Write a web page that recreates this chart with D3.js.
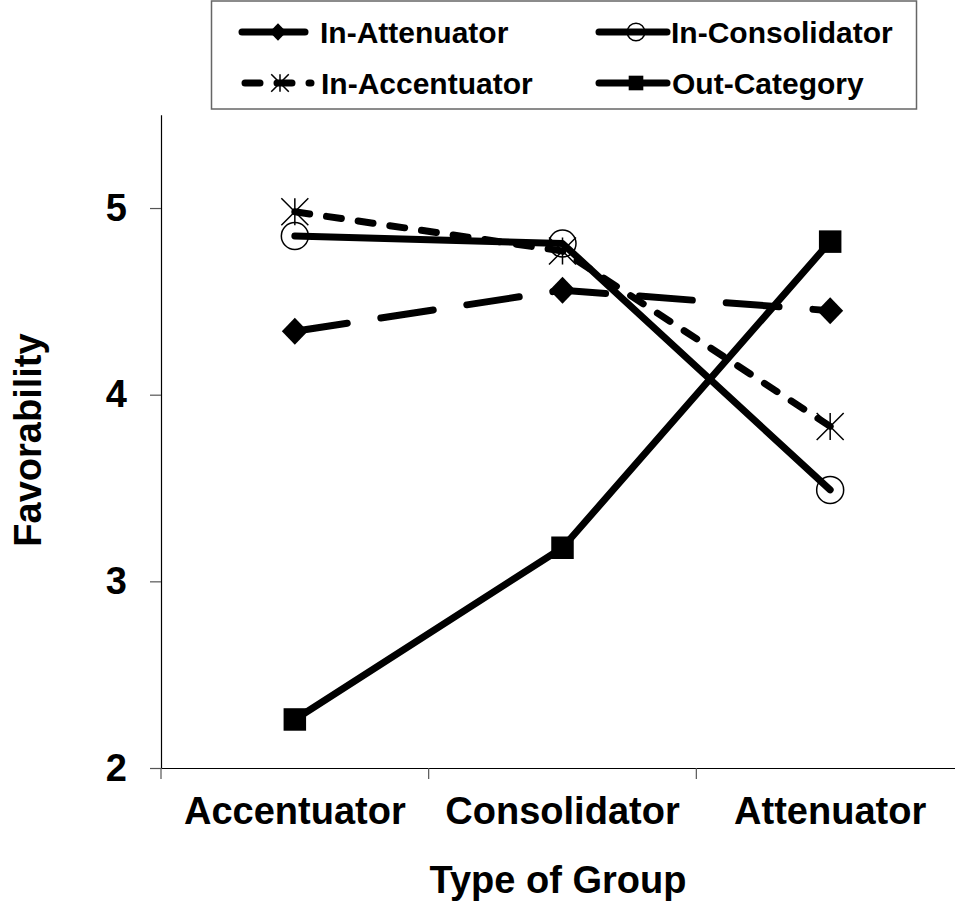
<!DOCTYPE html>
<html>
<head>
<meta charset="utf-8">
<script src="https://cdn.jsdelivr.net/npm/d3@7"></script>
<style>
  html, body { margin: 0; padding: 0; background: #fff; }
  svg { display: block; }
  text { font-family: "Liberation Sans", Arial, sans-serif; font-weight: bold; fill: #000; }
</style>
</head>
<body>
<svg id="chart" width="955" height="904"></svg>
<script>
// ---- data ----
const categories = ["Accentuator", "Consolidator", "Attenuator"];
const seriesNames = ["In-Attenuator", "In-Consolidator", "In-Accentuator", "Out-Category"];
const inAttenuator = [4.34, 4.56, 4.45];
const inConsolidator = [4.85, 4.81, 3.49];
const inAccentuator = [4.98, 4.77, 3.83];
const outCategory = [2.26, 3.18, 4.82];
const yTicks = [2, 3, 4, 5];
const xTitle = "Type of Group";
const yTitle = "Favorability";

// ---- styles (kept separate from data) ----
const styles = {
  "In-Attenuator":   { values: inAttenuator,   dash: "53,34", legendDash: null,    marker: "diamond" },
  "In-Consolidator": { values: inConsolidator, dash: null,    legendDash: null,    marker: "circle" },
  "In-Accentuator":  { values: inAccentuator,  dash: "15,17", legendDash: "15,17", marker: "asterisk" },
  "Out-Category":    { values: outCategory,    dash: null,    legendDash: null,    marker: "square" }
};

const svg = d3.select("#chart");
const plotLeft = 161, plotRight = 964, plotTop = 114.7, plotBottom = 768;

const x = d3.scaleBand().domain(categories).range([plotLeft, plotRight]).padding(0);
const y = d3.scaleLinear().domain([2, 5.5]).range([plotBottom, plotTop]);
const cx = c => x(c) + x.bandwidth() / 2;

// ---- axes ----
const yAxis = d3.axisLeft(y).tickValues(yTicks).tickFormat(d3.format("d"))
  .tickSizeInner(11).tickSizeOuter(0).tickPadding(23);
const gy = svg.append("g").attr("transform", `translate(${plotLeft},0)`).call(yAxis);
gy.select(".domain").attr("stroke", "#000").attr("stroke-width", 1.2);
gy.selectAll(".tick line").attr("stroke", "#555").attr("stroke-width", 1.2);
gy.selectAll(".tick text").style("font-size", "38px").style("font-family", "Liberation Sans, Arial, sans-serif")
  .style("font-weight", "bold").attr("fill", "#000");

const xAxis = d3.axisBottom(x).tickSize(0).tickPadding(29);
const gx = svg.append("g").attr("transform", `translate(0,${plotBottom})`).call(xAxis);
gx.select(".domain").attr("stroke", "#000").attr("stroke-width", 1.2);
gx.selectAll(".tick text").style("font-size", "38px").style("font-family", "Liberation Sans, Arial, sans-serif")
  .style("font-weight", "bold").attr("fill", "#000");

// boundary ticks between categories
const boundaries = categories.map(c => x(c));
svg.append("g").selectAll("line").data(boundaries).join("line")
  .attr("x1", d => d).attr("x2", d => d)
  .attr("y1", plotBottom).attr("y2", plotBottom + 11)
  .attr("stroke", "#555").attr("stroke-width", 1.2);

// axis titles
svg.append("text").attr("x", 558).attr("y", 893).attr("text-anchor", "middle")
  .style("font-size", "38px").text(xTitle);
svg.append("text").attr("transform", "translate(41,440) rotate(-90)").attr("text-anchor", "middle")
  .style("font-size", "38px").text(yTitle);

// ---- marker drawing ----
function drawMarker(g, type, px, py, scale) {
  const s = scale || 1;
  if (type === "diamond") {
    const hw = 13 * s, hh = 13.5 * s;
    g.append("path").attr("d", `M${px},${py - hh}L${px + hw},${py}L${px},${py + hh}L${px - hw},${py}Z`)
      .attr("fill", "#000");
  } else if (type === "circle") {
    g.append("circle").attr("cx", px).attr("cy", py).attr("r", 13.5 * s)
      .attr("fill", "none").attr("stroke", "#000").attr("stroke-width", 1.5);
  } else if (type === "asterisk") {
    const r = 13.5 * s;
    g.append("path").attr("d",
      `M${px},${py - r}L${px},${py + r}M${px - r},${py - r}L${px + r},${py + r}M${px + r},${py - r}L${px - r},${py + r}`)
      .attr("fill", "none").attr("stroke", "#000").attr("stroke-width", 1.5);
  } else if (type === "square") {
    const h = 11.25 * s;
    g.append("rect").attr("x", px - h).attr("y", py - h).attr("width", 2 * h).attr("height", 2 * h)
      .attr("fill", "#000");
  }
}

// ---- lines ----
const line = d3.line().x(d => cx(d.c)).y(d => y(d.v));
const plot = svg.append("g");
seriesNames.forEach(name => {
  const st = styles[name];
  const pts = categories.map((c, i) => ({ c, v: st.values[i] }));
  plot.append("path").datum(pts).attr("d", line)
    .attr("fill", "none").attr("stroke", "#000").attr("stroke-width", 7)
    .attr("stroke-linecap", "round").attr("stroke-linejoin", "round")
    .attr("stroke-dasharray", st.dash);
});
seriesNames.forEach(name => {
  const st = styles[name];
  categories.forEach((c, i) => drawMarker(plot, st.marker, cx(c), y(st.values[i]), 1));
});

// ---- legend ----
const lg = svg.append("g");
lg.append("rect").attr("x", 211.5).attr("y", 1).attr("width", 705).attr("height", 108)
  .attr("fill", "#fff").attr("stroke", "#666").attr("stroke-width", 1.5);
const legendLayout = [
  { x0: 242, x1: 305, mx: 278, tx: 320, y: 32 },
  { x0: 599, x1: 667, mx: 636, tx: 671, y: 32 },
  { x0: 245, x1: 311, mx: 280, tx: 321, y: 83 },
  { x0: 599, x1: 667, mx: 636, tx: 672, y: 83 }
];
const legendOrder = ["In-Attenuator", "In-Consolidator", "In-Accentuator", "Out-Category"];
legendOrder.forEach((name, i) => {
  const L = legendLayout[i], st = styles[name];
  lg.append("line").attr("x1", L.x0).attr("x2", L.x1).attr("y1", L.y).attr("y2", L.y)
    .attr("stroke", "#000").attr("stroke-width", 7).attr("stroke-linecap", "round")
    .attr("stroke-dasharray", st.legendDash);
  drawMarker(lg, st.marker, L.mx, L.y, 0.65);
  lg.append("text").attr("x", L.tx).attr("y", L.y).attr("dy", "0.36em")
    .style("font-size", "30px").text(name);
});
</script>
</body>
</html>
